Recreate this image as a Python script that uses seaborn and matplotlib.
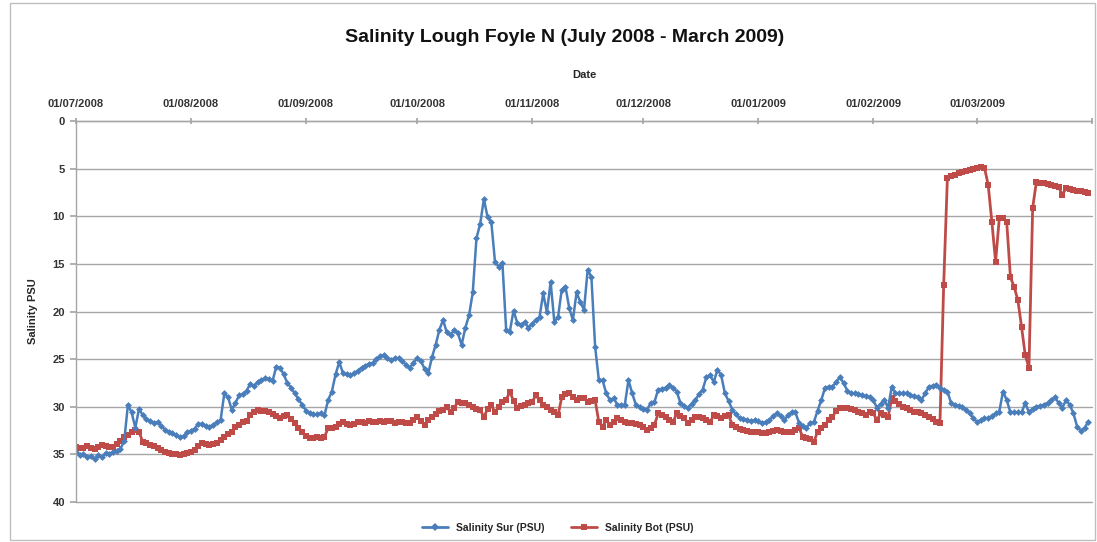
import numpy as np
import pandas as pd
import matplotlib
matplotlib.use("Agg")
import matplotlib.pyplot as plt
from matplotlib.patches import Rectangle
import seaborn as sns

# ---------------- data ----------------
start_date = "2008-07-01"
n_days = 274

salinity_sur = [
    34.8, 35.1, 35.0, 35.3, 35.2, 35.5, 35.1, 35.3, 34.9, 35.0,
    34.7, 34.6, 34.4, 33.6, 29.8, 30.6, 32.2, 30.2, 30.9, 31.3,
    31.5, 31.7, 31.6, 32.0, 32.4, 32.6, 32.8, 33.0, 33.2, 33.1,
    32.7, 32.5, 32.3, 31.8, 31.8, 32.0, 32.1, 31.9, 31.6, 31.4,
    28.6, 29.0, 30.3, 29.6, 28.8, 28.7, 28.3, 27.6, 27.8, 27.4,
    27.2, 27.0, 27.1, 27.3, 25.8, 25.9, 26.6, 27.5, 28.0, 28.6,
    29.2, 29.8, 30.4, 30.7, 30.8, 30.8, 30.7, 30.9, 29.3, 28.4,
    26.6, 25.3, 26.5, 26.6, 26.7, 26.5, 26.2, 25.9, 25.7, 25.5,
    25.4, 25.0, 24.7, 24.6, 24.9, 25.1, 24.9, 24.9, 25.2, 25.6,
    25.9, 25.4, 24.9, 25.2, 26.0, 26.5, 24.8, 23.5, 21.9, 20.9,
    22.2, 22.5, 21.9, 22.3, 23.5, 21.7, 20.4, 18.0, 12.3, 10.8,
    8.2, 10.1, 10.6, 14.8, 15.3, 14.9, 21.9, 22.1, 19.9, 21.2,
    21.4, 21.1, 21.7, 21.3, 20.9, 20.6, 18.1, 20.1, 16.9, 21.1,
    20.6, 17.7, 17.4, 19.6, 20.9, 18.0, 19.0, 19.8, 15.6, 16.4,
    23.7, 27.2, 27.2, 28.6, 29.3, 29.1, 29.8, 29.8, 29.8, 27.2,
    28.6, 29.8, 30.0, 30.2, 30.3, 29.6, 29.5, 28.2, 28.1, 28.0,
    27.7, 28.0, 28.4, 29.6, 29.9, 30.1, 29.7, 29.3, 28.7, 28.2,
    26.9, 26.7, 27.4, 26.1, 26.7, 28.6, 29.4, 30.3, 30.8, 31.2,
    31.3, 31.4, 31.5, 31.4, 31.5, 31.7, 31.6, 31.4, 31.0, 30.7,
    31.0, 31.4, 30.9, 30.6, 30.6, 31.7, 32.0, 32.2, 31.7, 31.6,
    30.4, 29.3, 28.0, 27.9, 27.9, 27.4, 26.9, 27.5, 28.3, 28.6,
    28.6, 28.7, 28.8, 28.9, 29.0, 29.3, 30.1, 29.7, 29.3, 30.1,
    27.9, 28.6, 28.6, 28.6, 28.6, 28.8, 28.9, 29.0, 29.3, 28.6,
    27.9, 27.8, 27.7, 28.0, 28.2, 28.4, 29.6, 29.8, 29.9, 30.0,
    30.3, 30.7, 31.2, 31.6, 31.4, 31.2, 31.2, 31.0, 30.7, 30.5,
    28.4, 29.3, 30.6, 30.6, 30.6, 30.6, 29.6, 30.6, 30.2, 30.0,
    29.9, 29.8, 29.6, 29.3, 29.0, 29.6, 30.1, 29.3, 29.8, 30.7,
    32.1, 32.5, 32.2, 31.6,
]

salinity_bot = [
    34.2, 34.3, 34.3, 34.1, 34.3, 34.4, 34.2, 34.0, 34.1, 34.2,
    34.2, 33.9, 33.6, 33.2, 33.0, 32.7, 32.4, 32.6, 33.7, 33.8,
    34.0, 34.1, 34.3, 34.5, 34.8, 34.9, 35.0, 35.0, 35.1, 35.0,
    34.9, 34.8, 34.5, 34.1, 33.8, 33.9, 34.0, 33.9, 33.8, 33.5,
    33.2, 32.9, 32.6, 32.1, 31.9, 31.6, 31.5, 30.9, 30.6, 30.3,
    30.4, 30.4, 30.6, 30.8, 31.0, 31.2, 31.0, 30.9, 31.3, 31.7,
    32.2, 32.6, 33.1, 33.3, 33.3, 33.2, 33.3, 33.2, 32.2, 32.2,
    32.1, 31.8, 31.6, 31.8, 31.9, 31.8, 31.6, 31.6, 31.7, 31.5,
    31.6, 31.6, 31.5, 31.6, 31.5, 31.5, 31.7, 31.6, 31.6, 31.7,
    31.7, 31.4, 31.1, 31.5, 31.9, 31.4, 31.1, 30.8, 30.4, 30.3,
    30.0, 30.6, 30.1, 29.5, 29.6, 29.6, 29.8, 30.0, 30.2, 30.3,
    31.1, 30.2, 29.8, 30.6, 30.0, 29.5, 29.3, 28.4, 29.4, 30.1,
    29.9, 29.8, 29.6, 29.5, 28.8, 29.3, 29.8, 30.0, 30.3, 30.6,
    30.9, 29.0, 28.7, 28.6, 29.0, 29.3, 29.1, 29.1, 29.5, 29.4,
    29.3, 31.6, 32.1, 31.4, 31.9, 31.6, 31.2, 31.4, 31.6, 31.7,
    31.7, 31.8, 31.9, 32.1, 32.4, 32.2, 31.9, 30.7, 30.9, 31.1,
    31.4, 31.6, 30.7, 31.0, 31.2, 31.7, 31.4, 31.1, 31.1, 31.2,
    31.4, 31.6, 30.9, 31.0, 31.2, 31.0, 30.9, 31.9, 32.1, 32.3,
    32.4, 32.5, 32.6, 32.6, 32.7, 32.8, 32.8, 32.6, 32.5, 32.4,
    32.5, 32.6, 32.6, 32.6, 32.4, 32.2, 33.2, 33.3, 33.4, 33.7,
    32.6, 32.2, 31.9, 31.4, 31.1, 30.4, 30.1, 30.1, 30.1, 30.2,
    30.3, 30.6, 30.7, 30.9, 30.6, 30.7, 31.4, 30.7, 30.9, 31.1,
    29.1, 29.4, 29.7, 30.0, 30.1, 30.3, 30.5, 30.6, 30.7, 30.9,
    31.1, 31.3, 31.6, 31.7, 17.2, 6.0, 5.8, 5.7, 5.5, 5.4,
    5.2, 5.1, 5.0, 4.9, 4.8, 4.9, 6.7, 10.6, 14.8, 10.2,
    10.2, 10.6, 16.4, 17.4, 18.8, 21.6, 24.6, 25.9, 9.1, 6.4,
    6.5, 6.5, 6.6, 6.7, 6.8, 6.9, 7.8, 7.0, 7.1, 7.2,
    7.3, 7.4, 7.5, 7.6,
]

series_names = ["Salinity Sur (PSU)", "Salinity Bot (PSU)"]
series_colors = ["#4A7EBB", "#BE4B48"]
series_markers = ["D", "s"]
y_ticks = [0, 5, 10, 15, 20, 25, 30, 35, 40]
month_ticks = pd.date_range("2008-07-01", "2009-04-01", freq="MS")
month_labels = [d.strftime("%d/%m/%Y") for d in month_ticks[:-1]] + [""]

dates = pd.date_range(start_date, periods=n_days, freq="D")
df = pd.DataFrame({
    "Date": np.concatenate([dates, dates]),
    "Salinity": salinity_sur + salinity_bot,
    "Series": [series_names[0]] * n_days + [series_names[1]] * n_days,
})

# ---------------- plot ----------------
sns.set_theme(style="white")
plt.rcParams["font.family"] = ["Liberation Sans", "DejaVu Sans"]

fig = plt.figure(figsize=(10.97, 5.42), dpi=100)
ax = fig.add_axes([76 / 1097, 1 - 502 / 542, (1092 - 76) / 1097, (502 - 121) / 542])

sns.lineplot(data=df[df["Series"] == series_names[1]], x="Date", y="Salinity",
             color=series_colors[1], marker=series_markers[1],
             markersize=4.5, linewidth=2.0, markeredgewidth=0, ax=ax, legend=False)
sns.lineplot(data=df[df["Series"] == series_names[0]], x="Date", y="Salinity",
             color=series_colors[0], marker=series_markers[0],
             markersize=3.5, linewidth=1.8, markeredgewidth=0, ax=ax, legend=False)

ax.set_ylim(40, 0)
ax.set_xlim(pd.Timestamp("2008-07-01"), pd.Timestamp("2009-04-01"))
ax.set_yticks(y_ticks)
ax.set_yticklabels([str(v) for v in y_ticks], fontsize=8, fontweight="bold", color="#333333")
ax.yaxis.grid(True, color="#A6A6A6", linewidth=1.0)
ax.set_axisbelow(True)
for gl in ax.get_ygridlines():
    gl.set_clip_on(False)

ax.xaxis.tick_top()
ax.xaxis.set_label_position("top")
ax.set_xticks(month_ticks)
ax.set_xticklabels(month_labels, fontsize=8, fontweight="bold", color="#333333")
ax.tick_params(axis="x", which="both", direction="inout", length=5, color="#A6A6A6", pad=6)
ax.tick_params(axis="y", which="both", direction="out", length=4, color="#A6A6A6", left=True, pad=4)

for s in ["right", "bottom"]:
    ax.spines[s].set_visible(False)
for s in ["left", "top"]:
    ax.spines[s].set_color("#A6A6A6")
    ax.spines[s].set_linewidth(1.0)

ax.set_xlabel("Date", fontsize=8, fontweight="bold", labelpad=15)
ax.set_ylabel("Salinity PSU", fontsize=8, fontweight="bold", labelpad=10)

fig.text(0.515, 1 - 37 / 542, "Salinity Lough Foyle N (July 2008 - March 2009)",
         ha="center", va="center", fontsize=14, fontweight="bold", color="#111111")

handles = [plt.Line2D([0], [0], color=c, marker=m, markersize=4, linewidth=2, markeredgewidth=0)
           for c, m in zip(series_colors, series_markers)]
fig.legend(handles, series_names, loc="center", bbox_to_anchor=(558 / 1097, 1 - 528 / 542),
           ncol=2, frameon=False, handlelength=2.5, columnspacing=2.5,
           prop={"weight": "bold", "size": 7.5})

fig.patches.append(Rectangle((10 / 1097, 2 / 542), 1085 / 1097, 537 / 542,
                             transform=fig.transFigure, fill=False,
                             edgecolor="#BFBFBF", linewidth=1.0))

fig.savefig("out.png", dpi=100)
